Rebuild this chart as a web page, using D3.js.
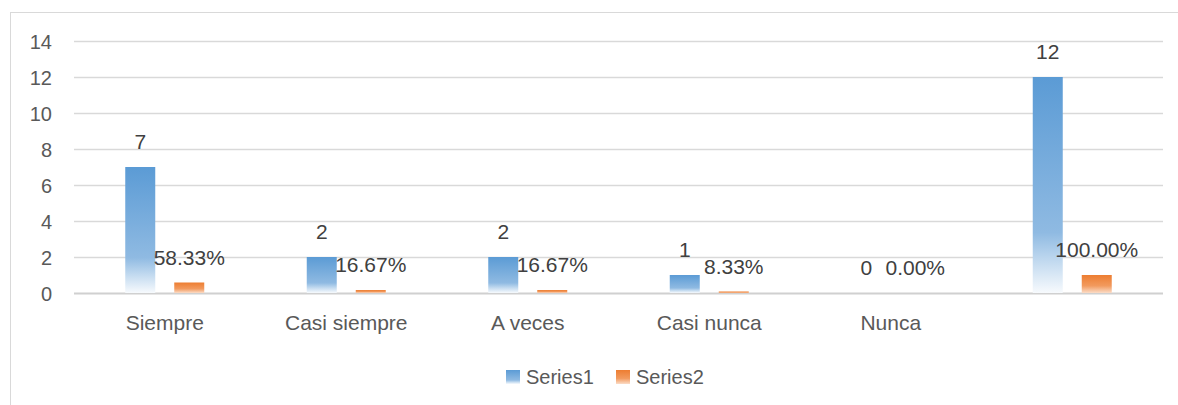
<!DOCTYPE html>
<html>
<head>
<meta charset="utf-8">
<script src="https://cdn.jsdelivr.net/npm/d3@7"></script>
<style>
  html, body { margin: 0; padding: 0; background: #fff; }
  svg { display: block; }
  text { font-family: "Liberation Sans", Arial, sans-serif; }
</style>
</head>
<body>
<svg id="chart" width="1178" height="405"></svg>
<script>
const categories = ["Siempre", "Casi siempre", "A veces", "Casi nunca", "Nunca", ""];
const series1 = [7, 2, 2, 1, 0, 12];
const series2 = [0.5833, 0.1667, 0.1667, 0.0833, 0, 1];
const series2Labels = ["58.33%", "16.67%", "16.67%", "8.33%", "0.00%", "100.00%"];
const seriesNames = ["Series1", "Series2"];
const yTicks = [0, 2, 4, 6, 8, 10, 12, 14];

const svg = d3.select("#chart");
const W = 1178, H = 405;
const plot = { left: 74, right: 1163, top: 41, bottom: 293 };

// chart border
svg.append("rect")
  .attr("x", 10.5).attr("y", 12.5)
  .attr("width", W + 10).attr("height", H + 10)
  .attr("fill", "#fff").attr("stroke", "#d9d9d9").attr("stroke-width", 1);

const defs = svg.append("defs");
function grad(id, stops) {
  const g = defs.append("linearGradient").attr("id", id)
    .attr("x1", 0).attr("y1", 0).attr("x2", 0).attr("y2", 1);
  stops.forEach(s => g.append("stop").attr("offset", s[0]).attr("stop-color", s[1]));
}
grad("gBlue", [["0%", "#5B9BD5"], ["72%", "#8FBAE2"], ["86%", "#C4DBF0"], ["100%", "#F7FAFD"]]);
grad("gOrange", [["0%", "#ED7D31"], ["60%", "#F29A5E"], ["100%", "#FBDCC7"]]);

const x0 = d3.scaleBand().domain(d3.range(categories.length)).range([plot.left, plot.right]).paddingInner(0).paddingOuter(0);
const bw = x0.bandwidth();
const x1 = d3.scaleBand().domain([0, 1]).range([bw / 2 - 39.5, bw / 2 + 39.5]).paddingInner(19 / 49).paddingOuter(0);
const y = d3.scaleLinear().domain([0, 14]).range([plot.bottom, plot.top]);

// gridlines
const yAxis = d3.axisLeft(y).tickValues(yTicks).tickSize(-(plot.right - plot.left)).tickPadding(22).tickFormat(d3.format("d"));
const ga = svg.append("g").attr("transform", `translate(${plot.left},0)`).call(yAxis);
ga.select(".domain").remove();
ga.selectAll(".tick line").attr("stroke", "#d9d9d9").attr("stroke-width", 1.5);
ga.selectAll(".tick text").attr("fill", "#595959").attr("font-size", 20).attr("dy", "0.35em");
ga.selectAll(".tick").filter(d => d === 0).select("line").attr("stroke", "#d0d0d0").attr("stroke-width", 2);

// x labels
const xAxis = d3.axisBottom(x0).tickSize(0).tickPadding(0).tickFormat(i => categories[i]);
const gx = svg.append("g").attr("transform", `translate(0,${plot.bottom})`).call(xAxis);
gx.select(".domain").remove();
gx.selectAll(".tick text").attr("fill", "#595959").attr("font-size", 21).attr("y", 37).attr("dy", 0);

// bars
const data = categories.map((c, i) => ({ i, v: [series1[i], series2[i]], lab: [String(series1[i]), series2Labels[i]] }));
const fills = ["url(#gBlue)", "url(#gOrange)"];
const groups = svg.append("g").selectAll("g").data(data).join("g")
  .attr("transform", d => `translate(${x0(d.i)},0)`);
groups.selectAll("rect").data(d => d.v.map((v, k) => ({ v, k }))).join("rect")
  .attr("x", d => x1(d.k)).attr("width", x1.bandwidth())
  .attr("y", d => y(d.v)).attr("height", d => y(0) - y(d.v))
  .attr("fill", d => fills[d.k]);
groups.selectAll("text").data(d => d.v.map((v, k) => ({ v, k, lab: d.lab[k] }))).join("text")
  .attr("x", d => x1(d.k) + x1.bandwidth() / 2)
  .attr("y", d => y(d.v) - 18)
  .attr("text-anchor", "middle")
  .attr("font-size", 21)
  .attr("fill", "#404040")
  .text(d => d.lab);

// legend
const legend = svg.append("g");
const lx = [506, 616];
seriesNames.forEach((n, k) => {
  legend.append("rect").attr("x", lx[k]).attr("y", 370).attr("width", 14).attr("height", 14).attr("fill", fills[k]);
  legend.append("text").attr("x", lx[k] + 20).attr("y", 384).attr("font-size", 20).attr("fill", "#595959").text(n);
});
</script>
</body>
</html>
